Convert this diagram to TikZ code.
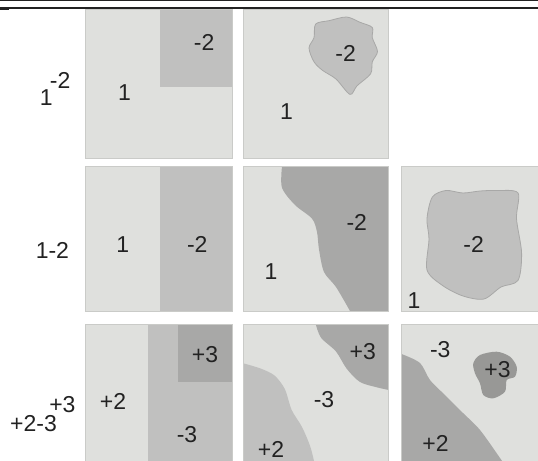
\documentclass[tikz,border=0pt]{standalone}
\usepackage{fontspec}
\setmainfont{Liberation Sans}
\usetikzlibrary{positioning}

\definecolor{paneLight}{RGB}{223,224,221}
\definecolor{paneEdge}{RGB}{202,203,200}
\definecolor{zoneMid}{RGB}{192,192,191}
\definecolor{zoneDark}{RGB}{168,168,167}
\definecolor{blobDark}{RGB}{152,152,150}
\definecolor{ink}{RGB}{34,34,34}

\begin{document}
\begin{tikzpicture}[x=0.5pt,y=-0.5pt,
  lbl/.style={font=\fontsize{11.5}{13}\selectfont,text=ink,inner sep=0pt},
  rim/.style={draw=paneEdge,line width=0.5pt}]
\useasboundingbox (0,0) rectangle (538,461);
\fill[white] (0,0) rectangle (538,461);

% rules of the table above
\draw[ink,line width=0.65pt] (0,0.6) -- (538,0.6);
\draw[ink,line width=1pt] (0,7.7) -- (538,7.7);
\draw[ink,line width=0.6pt] (0,9.4) -- (9.5,9.4);

\foreach \ax/\ay/\bx/\by in {86/9/232.5/158.5, 244/9/389/158.5,
    86/166.5/232.5/311, 244/166.5/389/311, 401.5/166.5/547/311,
    86/324/232.5/470, 244/324/389/470, 401.5/324/547/470}
  \fill[paneLight] (\ax,\ay) rectangle (\bx,\by);

% row 1
\fill[zoneMid] (159.6,9) rectangle (232.5,86.8);
\filldraw[fill=zoneMid,draw=zoneDark,line width=0.4pt] plot[smooth cycle] coordinates {
  (346.6,17) (329.4,20.6) (315.7,24) (314,37.7) (309,48) (314,61.8) (322.6,70.4)
  (336,79) (350,94.4) (357,85.8) (370.6,73.8) (372.3,61.8) (377.5,51.5)
  (372.3,37.7) (372.3,27.5) (360,22.3)};

% row 2
\fill[zoneMid] (159.6,166.5) rectangle (232.5,311);
\fill[zoneDark] plot[smooth] coordinates {(282,166.5) (282,187.7) (295,205) (312,218.6)
  (317,232) (319,249.5) (324,272) (336,287) (350,311)} -- (389,311) -- (389,166.5) -- cycle;
\filldraw[fill=zoneMid,draw=zoneDark,line width=0.4pt] plot[smooth cycle] coordinates {
  (446,190.5) (463,193) (480,191) (497.6,190.5) (518,193) (516.5,218.6) (521.6,253)
  (518,280.4) (501,287) (484,299) (463,296) (442.7,285.6) (427,270) (429,239)
  (427,218.6) (432.4,197)};

% row 3
\fill[zoneMid] (148.2,324) rectangle (232.5,470);
\fill[zoneDark] (178.5,324) rectangle (232.5,382.4);
\fill[zoneDark] plot[smooth] coordinates {(315.7,324) (321,337.7) (336,351.5) (346.6,368.6)
  (360,382) (377.5,387.5) (389,390)} -- (389,324) -- cycle;
\fill[zoneMid] plot[smooth] coordinates {(244,363.5) (260.8,368.6) (274.5,375.5) (284.8,389)
  (291.7,410) (302,427) (310.6,447.6) (316,470)} -- (244,470) -- cycle;
\fill[zoneDark] plot[smooth] coordinates {(401.5,354) (420,363) (430,380) (446.7,396.7)
  (463,413) (480,430) (500,458) (508,470)} -- (401.5,470) -- cycle;
\fill[blobDark] plot[smooth cycle] coordinates {(480,355) (496.7,351.7) (510,356.7)
  (516.7,366.7) (515,376.7) (506.7,380) (505,391.7) (493.3,398.3) (483.3,395)
  (480,383.3) (475,373.3) (473.3,363.3)};

\foreach \ax/\ay/\bx/\by in {86/9/232.5/158.5, 244/9/389/158.5,
    86/166.5/232.5/311, 244/166.5/389/311, 401.5/166.5/547/311,
    86/324/232.5/470, 244/324/389/470, 401.5/324/547/470}
  \draw[rim] (\ax,\ay) rectangle (\bx,\by);

\node[lbl] (rowOneBase) at (46.3,97.8) {1};
\node[lbl] (rowOneExp) at (60.2,80.8) {-2};
\node[lbl] (rowTwoName) at (52.4,250.5) {1-2};
\node[lbl] (rowThreeBase) at (33.5,423.5) {+2-3};
\node[lbl] (rowThreeExp) at (62.4,404.3) {+3};

\node[lbl] (oneAone) at (124.4,92.7) {1};
\node[lbl] (oneAtwo) at (204.2,42.9) {-2};
\node[lbl] (oneBtwo) at (345.6,53.2) {-2};
\node[lbl] (oneBone) at (286.5,111.5) {1};

\node[lbl] (twoAone) at (122.7,244.4) {1};
\node[lbl] (twoAtwo) at (197.3,244) {-2};
\node[lbl] (twoBtwo) at (356.8,222.9) {-2};
\node[lbl] (twoBone) at (271,271.8) {1};
\node[lbl] (twoCtwo) at (473.6,244) {-2};
\node[lbl] (twoCone) at (414,301) {1};

\node[lbl] (threeAtwo) at (113,401) {+2};
\node[lbl] (threeAthreeUp) at (205,354.9) {+3};
\node[lbl] (threeAthreeDown) at (187,435) {-3};
\node[lbl] (threeBthreeUp) at (362.8,351.5) {+3};
\node[lbl] (threeBthreeDown) at (324,400) {-3};
\node[lbl] (threeBtwo) at (271,449) {+2};
\node[lbl] (threeCthreeDown) at (440.3,349.2) {-3};
\node[lbl] (threeCthreeUp) at (497.5,370) {+3};
\node[lbl] (threeCtwo) at (435.5,443) {+2};
\end{tikzpicture}
\end{document}
